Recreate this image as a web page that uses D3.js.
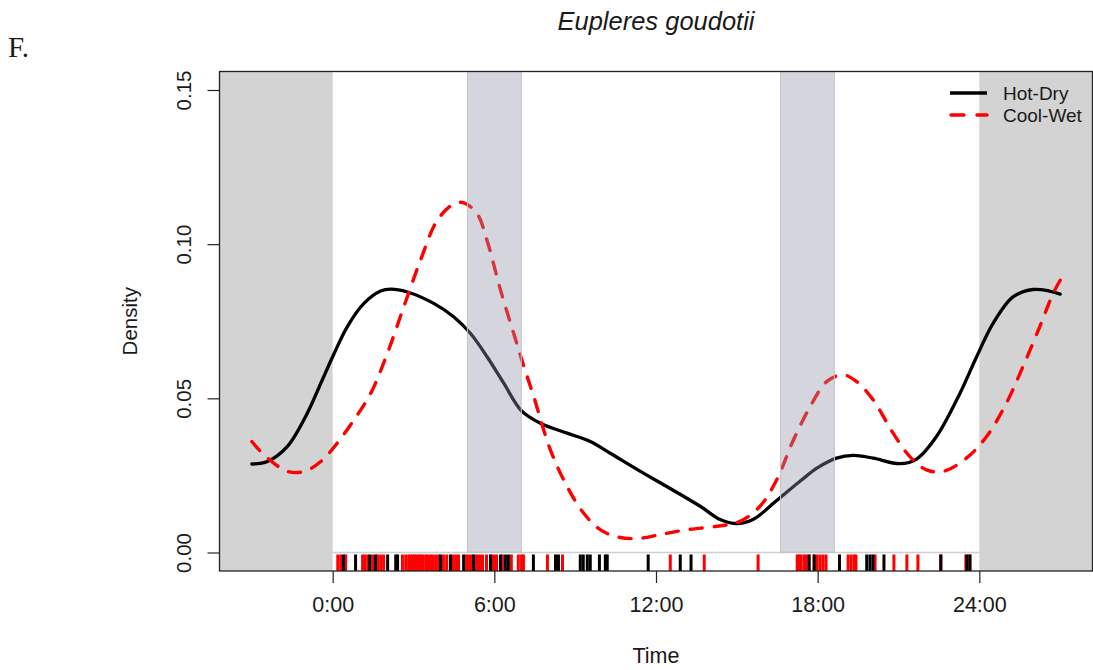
<!DOCTYPE html>
<html>
<head>
<meta charset="utf-8">
<script src="https://cdn.jsdelivr.net/npm/d3@7"></script>
<style>
  html, body { margin: 0; padding: 0; background: #fff; }
  svg { display: block; }
  text { font-family: "Liberation Sans", Arial, Helvetica, sans-serif; fill: #1a1a1a; }
</style>
</head>
<body>
<div id="chart"></div>
<script>
// ---------------- data ----------------
const title = "Eupleres goudotii";
const panelLabel = "F.";
const seriesNames = ["Hot-Dry", "Cool-Wet"];

// Hot-Dry density curve (hour, density)
const hotDryTime = [-3.0,-2.42,-1.68,-0.94,-0.44,0.0,0.54,1.16,1.78,2.15,2.77,3.75,4.5,5.11,5.73,6.35,7.0,7.71,8.7,9.56,10.3,11.42,12.4,13.64,14.38,15.0,15.6,16.5,17.4,18.0,18.7,19.32,20.06,21.05,21.67,22.41,23.28,23.9,24.51,25.25,25.99,26.6,27.0];
const hotDryDensity = [0.0287,0.0295,0.0344,0.0452,0.0549,0.0635,0.0732,0.0808,0.0848,0.0854,0.0845,0.0808,0.0764,0.0711,0.0635,0.0549,0.0460,0.0419,0.0387,0.0360,0.0322,0.0263,0.0214,0.0150,0.0107,0.0094,0.0107,0.0170,0.0235,0.0275,0.0306,0.0315,0.0306,0.0288,0.0303,0.0376,0.0516,0.0635,0.0743,0.0829,0.0853,0.0848,0.0838];

// Cool-Wet density curve (hour, density)
const coolWetTime = [-3.0,-2.55,-1.68,-1.06,-0.44,0.17,0.79,1.41,2.03,2.64,3.26,3.88,4.5,4.87,5.36,5.73,6.23,6.72,7.0,7.46,8.08,8.7,9.31,9.93,10.55,11.29,12.16,13.15,14.26,15.12,15.86,16.48,17.1,17.72,18.33,18.95,19.45,20.06,20.8,21.42,22.04,22.66,23.52,24.27,25.0,25.62,26.24,26.74,27.0];
const coolWetDensity = [0.0360,0.0317,0.0263,0.0263,0.0295,0.0355,0.0430,0.0516,0.0646,0.0797,0.0948,0.1077,0.1131,0.1134,0.1099,0.1012,0.0851,0.0710,0.0630,0.0506,0.0333,0.0214,0.0128,0.0074,0.0051,0.0045,0.0058,0.0074,0.0085,0.0101,0.0150,0.0236,0.0365,0.0473,0.0554,0.0576,0.0554,0.0495,0.0387,0.0311,0.0268,0.0263,0.0306,0.0376,0.0484,0.0603,0.0732,0.0840,0.0883];

// rug: observation times (hours)
const hotDryRug = [0.40,0.85,1.37,1.59,2.04,2.34,2.41,4.00,4.37,4.86,5.23,5.86,6.23,6.41,6.52,7.45,8.27,8.38,9.19,9.30,9.45,9.56,9.90,10.12,10.19,11.71,12.90,13.30,17.68,17.87,18.81,19.82,19.94,20.05,20.46,22.57,23.54,23.65];
const coolWetRug = [0.19,0.30,0.48,1.11,1.19,1.30,1.48,1.67,1.78,1.89,2.59,2.71,2.82,2.89,2.97,3.04,3.11,3.19,3.26,3.34,3.45,3.52,3.63,3.71,3.82,3.93,4.11,4.23,4.45,4.56,4.67,4.97,5.08,5.19,5.34,5.45,5.56,5.71,5.86,5.97,6.08,6.30,6.63,6.89,7.01,7.08,7.97,8.53,12.53,13.79,15.79,17.24,17.31,17.38,17.49,17.57,17.68,17.87,17.98,18.09,18.20,18.31,19.13,19.24,19.35,19.42,20.13,20.83,21.31,21.72,22.57,23.50,23.65];

// night (outside 0-24) and twilight bands (hours)
const nightBands = [[-4.2, 0], [24, 28.2]];
const twilightBands = [[5.0, 7.0], [16.62, 18.62]];

const xTicks = [0, 6, 12, 18, 24];
const xTickLabels = ["0:00", "6:00", "12:00", "18:00", "24:00"];
const yTicks = [0, 0.05, 0.10, 0.15];
const yTickLabels = ["0.00", "0.05", "0.10", "0.15"];

// ---------------- chart ----------------
const W = 1093, H = 670;
const plot = { left: 219.5, right: 1092.5, top: 71.5, bottom: 571 };

const svg = d3.select("#chart").append("svg").attr("width", W).attr("height", H);

const x = d3.scaleLinear().domain([-4.2, 28.2]).range([plot.left, plot.right]);
const y = d3.scaleLinear().domain([-0.006, 0.156]).range([plot.bottom, plot.top]);

// night shading (opaque, under curves)
svg.selectAll("rect.night").data(nightBands).enter().append("rect")
  .attr("x", d => x(d[0])).attr("width", d => x(d[1]) - x(d[0]))
  .attr("y", plot.top).attr("height", plot.bottom - plot.top)
  .attr("fill", "#d3d3d3");

// baseline at 0 across the day
svg.append("line")
  .attr("x1", x(0)).attr("x2", x(24))
  .attr("y1", y(0)).attr("y2", y(0))
  .attr("stroke", "#cfcfcf").attr("stroke-width", 1.5);

const line = d3.line().x(d => x(d[0])).y(d => y(d[1])).curve(d3.curveCatmullRom.alpha(0.5));

const hotDry = hotDryTime.map((t, i) => [t, hotDryDensity[i]]);
const coolWet = coolWetTime.map((t, i) => [t, coolWetDensity[i]]);

svg.append("path").datum(hotDry).attr("d", line)
  .attr("fill", "none").attr("stroke", "#000").attr("stroke-width", 3.3)
  .attr("stroke-linecap", "round").attr("stroke-linejoin", "round");

svg.append("path").datum(coolWet).attr("d", line)
  .attr("fill", "none").attr("stroke", "#ff0000").attr("stroke-width", 3.4)
  .attr("stroke-dasharray", "12,12").attr("stroke-linecap", "round");

// twilight bands (semi-transparent, over curves)
svg.selectAll("rect.twi").data(twilightBands).enter().append("rect")
  .attr("x", d => x(d[0])).attr("width", d => x(d[1]) - x(d[0]))
  .attr("y", plot.top).attr("height", y(0) - plot.top)
  .attr("fill", "rgb(145,145,165)").attr("fill-opacity", 0.38);
svg.selectAll("line.twiEdge").data(twilightBands.flat()).enter().append("line")
  .attr("x1", d => x(d)).attr("x2", d => x(d))
  .attr("y1", plot.top).attr("y2", y(0))
  .attr("stroke", "#c4c4cc").attr("stroke-width", 1);

// rug
const rugTop = y(0) + 2, rugBottom = plot.bottom;
svg.selectAll("line.rugCW").data(coolWetRug).enter().append("line")
  .attr("x1", d => x(d)).attr("x2", d => x(d))
  .attr("y1", rugTop).attr("y2", rugBottom)
  .attr("stroke", "#ff0000").attr("stroke-width", 3);
svg.selectAll("line.rugHD").data(hotDryRug).enter().append("line")
  .attr("x1", d => x(d)).attr("x2", d => x(d))
  .attr("y1", rugTop).attr("y2", rugBottom)
  .attr("stroke", "#000").attr("stroke-width", 3);

// box
svg.append("rect")
  .attr("x", plot.left).attr("y", plot.top)
  .attr("width", plot.right - plot.left).attr("height", plot.bottom - plot.top)
  .attr("fill", "none").attr("stroke", "#222").attr("stroke-width", 1.3);

// x axis
const xAxis = d3.axisBottom(x).tickValues(xTicks).tickSize(12).tickPadding(14)
  .tickFormat((d, i) => xTickLabels[i]);
const gx = svg.append("g").attr("transform", `translate(0,${plot.bottom})`).call(xAxis);
gx.select(".domain").remove();
gx.selectAll(".tick line").attr("stroke", "#222").attr("stroke-width", 1.2);
gx.selectAll(".tick text").attr("font-size", 21.5).attr("fill", "#1a1a1a")
  .attr("font-family", '"Liberation Sans", Arial, sans-serif');

// y axis
const yAxis = d3.axisLeft(y).tickValues(yTicks).tickSize(12).tickPadding(0)
  .tickFormat((d, i) => yTickLabels[i]);
const gy = svg.append("g").attr("transform", `translate(${plot.left},0)`).call(yAxis);
gy.select(".domain").remove();
gy.selectAll(".tick line").attr("stroke", "#222").attr("stroke-width", 1.2);
gy.selectAll(".tick text")
  .attr("font-size", 20.5).attr("fill", "#1a1a1a")
  .attr("font-family", '"Liberation Sans", Arial, sans-serif')
  .attr("x", null).attr("dy", null)
  .attr("text-anchor", "middle")
  .attr("transform", `translate(${-29},0) rotate(-90)`);

// axis titles
svg.append("text").attr("x", (plot.left + plot.right) / 2).attr("y", 663)
  .attr("text-anchor", "middle").attr("font-size", 21.5).text("Time");
svg.append("text")
  .attr("transform", `translate(137,${(plot.top + plot.bottom) / 2}) rotate(-90)`)
  .attr("text-anchor", "middle").attr("font-size", 20.5).text("Density");

// title
svg.append("text").attr("x", (plot.left + plot.right) / 2).attr("y", 30)
  .attr("text-anchor", "middle").attr("font-size", 25.5).attr("font-style", "italic")
  .text(title);

// panel label
svg.append("text").attr("x", 8).attr("y", 57)
  .style("font-family", '"Liberation Serif", "Times New Roman", serif')
  .attr("font-size", 29).text(panelLabel);

// legend
const legend = svg.append("g");
const legY = [93, 115];
legend.append("line").attr("x1", 950).attr("x2", 987).attr("y1", legY[0]).attr("y2", legY[0])
  .attr("stroke", "#000").attr("stroke-width", 3.3);
legend.append("line").attr("x1", 951).attr("x2", 987).attr("y1", legY[1]).attr("y2", legY[1])
  .attr("stroke", "#ff0000").attr("stroke-width", 3.4)
  .attr("stroke-dasharray", "13,13").attr("stroke-linecap", "round");
seriesNames.forEach((n, i) => {
  legend.append("text").attr("x", 1003).attr("y", legY[i] + 7)
    .attr("font-size", 19).text(n);
});
</script>
</body>
</html>
